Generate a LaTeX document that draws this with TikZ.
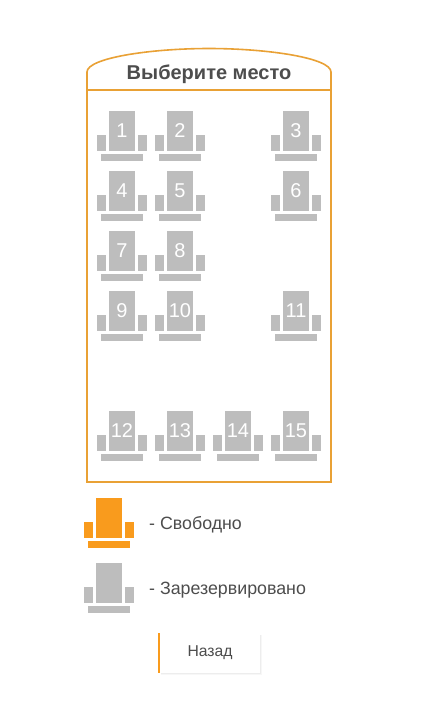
\documentclass[tikz,border=0pt]{standalone}
\usepackage{fontspec}
\setmainfont{Liberation Sans}
\definecolor{frameorange}{HTML}{E9A135}
\definecolor{freeorange}{HTML}{F99B1D}
\definecolor{seatgrey}{HTML}{BDBDBD}
\definecolor{textgrey}{HTML}{4D4D4D}
\tikzset{
  seatnum/.style={text=white, font=\fontsize{20}{20}\selectfont, inner sep=0pt},
  legendtext/.style={text=textgrey, font=\fontsize{17.8}{18}\selectfont, anchor=west, inner sep=0pt},
  frameline/.style={draw=frameorange, line width=1.6pt},
  pics/seat/.style={code={
    \fill[#1] (-13.3,0) rectangle (13,39.7);
    \fill[#1] (-24.7,24) rectangle (-16,39.7);
    \fill[#1] (16,24) rectangle (24.7,39.7);
    \fill[#1] (-21.3,43) rectangle (21.3,49.7);
  }}
}
\begin{document}
\begin{tikzpicture}[x=1pt,y=-1pt]
\useasboundingbox (0,0) rectangle (425,724);
\fill[white] (0,0) rectangle (425,724);
% draws frame
\draw[frameline] (87,90) -- (87,72) .. controls (87,58) and (150,48.5) .. (209,48.5)
  .. controls (268,48.5) and (331,58) .. (331,72) -- (331,482) -- (87,482) -- cycle;
\draw[frameline] (87,90) -- (331,90);
\node[text=textgrey, font=\fontsize{20}{20}\selectfont\bfseries, inner sep=0pt] (title) at (209,74) {Выберите место};
% draws seats
\foreach \n/\x/\y in {1/122/111,2/180/111,3/296/111,
                      4/122/171,5/180/171,6/296/171,
                      7/122/231,8/180/231,
                      9/122/291,10/180/291,11/296/291,
                      12/122/411,13/180/411,14/238/411,15/296/411}{
  \pic at (\x,\y) {seat=seatgrey};
  \node[seatnum] (s\n) at (\x,\y+20) {\n};
}
% legend
\pic at (109,498) {seat=freeorange};
\pic at (109,563) {seat=seatgrey};
\node[legendtext] (free) at (149,525) {- Свободно};
\node[legendtext] (reserved) at (149,590) {- Зарезервировано};
% back button
\foreach \d/\c in {3/3,2/7,1/11}{
  \fill[black!\c] (161,635) rectangle (259+\d,672+\d);
}
\fill[freeorange] (158.4,633) rectangle (160,673);
\node[fill=white, minimum width=100pt, minimum height=40pt, inner sep=0pt,
  text=textgrey, font=\fontsize{15.7}{16}\selectfont] (back) at (210,653) {Назад};
\end{tikzpicture}
\end{document}
